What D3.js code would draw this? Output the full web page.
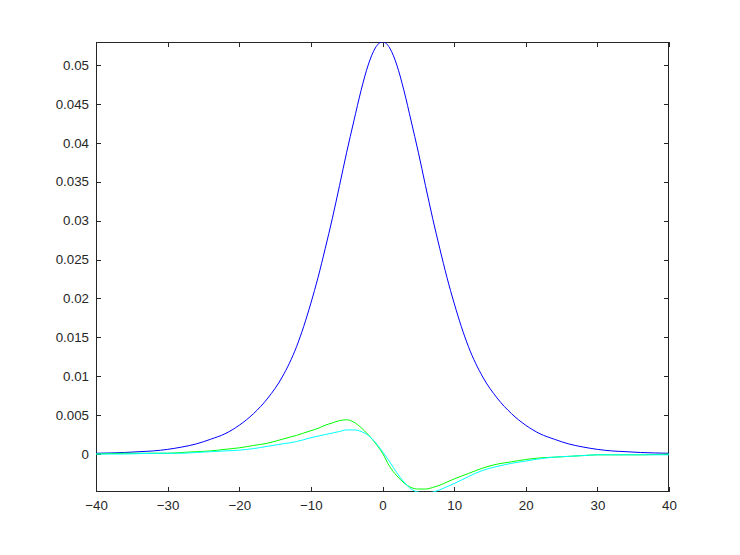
<!DOCTYPE html>
<html>
<head>
<meta charset="utf-8">
<script src="https://cdn.jsdelivr.net/npm/d3@7"></script>
<style>
  html, body { margin: 0; padding: 0; background: #fff; }
  svg { display: block; }
  .tick text { font-family: "Liberation Sans", Arial, sans-serif; font-size: 13.3px; fill: #262626; }
</style>
</head>
<body>
<svg id="chart" width="740" height="555"></svg>
<script>
// ---- data ----
const xBlue = [-40,-36,-34,-32,-30,-28,-26,-24,-22,-20,-18,-16,-14,-12,-11,-10,-9,-8,-7,-6,-5,-4,-3,-2,-1,0,1,2,3,4,5,6,7,8,9,10,11,12,14,16,18,20,22,24,26,28,30,32,34,36,40];
const yBlue = [0.0001,0.0002,0.0003,0.0004,0.0006,0.0009,0.0013,0.0019,0.0026,0.0037,0.0052,0.0072,0.0099,0.0138,0.0164,0.0194,0.0227,0.0264,0.0303,0.0345,0.0388,0.0428,0.0467,0.0500,0.0522,0.0530,0.0522,0.0500,0.0467,0.0428,0.0388,0.0345,0.0303,0.0264,0.0227,0.0194,0.0164,0.0138,0.0099,0.0072,0.0052,0.0037,0.0026,0.0019,0.0013,0.0009,0.0006,0.0004,0.0003,0.0002,0.0001];

const xGreen = [-40,-36,-32,-30,-28,-26,-24,-22,-20,-18,-16,-14,-12,-10,-9,-8,-7,-6,-5,-4,-3,-2,-1,0,1,2,3,4,5,6,7,8,9,10,12,14,16,18,20,22,24,26,28,30,32,36,40];
const yGreen = [0.0000,0.0001,0.0001,0.0001,0.0002,0.0003,0.0004,0.0006,0.0008,0.0011,0.0014,0.0019,0.0024,0.0030,0.0033,0.0037,0.0040,0.0043,0.0044,0.0041,0.0034,0.0025,0.0014,0.0001,-0.0016,-0.0028,-0.0037,-0.0043,-0.0045,-0.0045,-0.0043,-0.0040,-0.0036,-0.0032,-0.0025,-0.0018,-0.0013,-0.0010,-0.0007,-0.0005,-0.0004,-0.0003,-0.0002,-0.0001,-0.0001,-0.0001,0.0000];

const xCyan = [-40,-36,-32,-30,-28,-26,-24,-22,-20,-18,-16,-14,-12,-10,-9,-8,-7,-6,-5,-4,-3,-2,-1,0,1,2,3,4,5,6,7,8,9,10,12,14,16,18,20,22,24,26,28,30,32,36,40];
const yCyan = [0.0000,0.0000,0.0001,0.0001,0.0001,0.0002,0.0003,0.0004,0.0005,0.0007,0.0010,0.0013,0.0016,0.0021,0.0023,0.0025,0.0027,0.0029,0.0031,0.0031,0.0029,0.0024,0.0015,0.0003,-0.0010,-0.0024,-0.0036,-0.0045,-0.0049,-0.0050,-0.0049,-0.0046,-0.0042,-0.0038,-0.0029,-0.0021,-0.0016,-0.0012,-0.0009,-0.0006,-0.0004,-0.0003,-0.0002,-0.0001,-0.0001,-0.0001,-0.0001];

const xTicks = [-40,-30,-20,-10,0,10,20,30,40];
const yTicks = [0,0.005,0.01,0.015,0.02,0.025,0.03,0.035,0.04,0.045,0.05];
const xDomain = [-40, 40];
const yDomain = [-0.00488, 0.05296];

// ---- layout ----
const L = 96, T = 42, R = 669, B = 492;
const svg = d3.select("#chart");
const x = d3.scaleLinear().domain(xDomain).range([L, R]);
const y = d3.scaleLinear().domain(yDomain).range([B, T]);

svg.append("defs").append("clipPath").attr("id", "clip")
  .append("rect").attr("x", L).attr("y", T).attr("width", R - L).attr("height", B - T);

const axisColor = "#262626";
function styleAxis(g) {
  g.select(".domain").remove();
  g.selectAll(".tick line").attr("stroke", axisColor).attr("shape-rendering", "crispEdges");
}

// bottom axis with labels (ticks inward)
svg.append("g").attr("transform", `translate(0,${B})`)
  .call(d3.axisBottom(x).tickValues(xTicks).tickSize(-5).tickPadding(9).tickFormat(d3.format("d")))
  .call(styleAxis);
// top axis (ticks only)
svg.append("g").attr("transform", `translate(0,${T})`)
  .call(d3.axisTop(x).tickValues(xTicks).tickSize(-5).tickFormat(""))
  .call(styleAxis);
// left axis with labels
const fmtY = d => d === 0 ? "0" : String(+d.toFixed(3));
svg.append("g").attr("transform", `translate(${L},0)`)
  .call(d3.axisLeft(y).tickValues(yTicks).tickSize(-5).tickPadding(7).tickFormat(fmtY))
  .call(styleAxis);
// right axis (ticks only)
svg.append("g").attr("transform", `translate(${R},0)`)
  .call(d3.axisRight(y).tickValues(yTicks).tickSize(-5).tickFormat(""))
  .call(styleAxis);

// frame
svg.append("rect").attr("x", L + 0.5).attr("y", T + 0.5)
  .attr("width", R - L - 1).attr("height", B - T - 1)
  .attr("fill", "none").attr("stroke", axisColor).attr("shape-rendering", "crispEdges");

// curves
const line = d3.line().x(d => x(d[0])).y(d => y(d[1])).curve(d3.curveMonotoneX);
const series = [
  {xs: xBlue, ys: yBlue, color: "#0000ff"},
  {xs: xGreen, ys: yGreen, color: "#00ff00"},
  {xs: xCyan, ys: yCyan, color: "#00ffff"}
];
const plot = svg.append("g").attr("clip-path", "url(#clip)");
series.forEach(s => {
  plot.append("path")
    .datum(s.xs.map((v, i) => [v, s.ys[i]]))
    .attr("fill", "none")
    .attr("stroke", s.color)
    .attr("stroke-width", 1)
    .attr("d", line);
});
</script>
</body>
</html>
